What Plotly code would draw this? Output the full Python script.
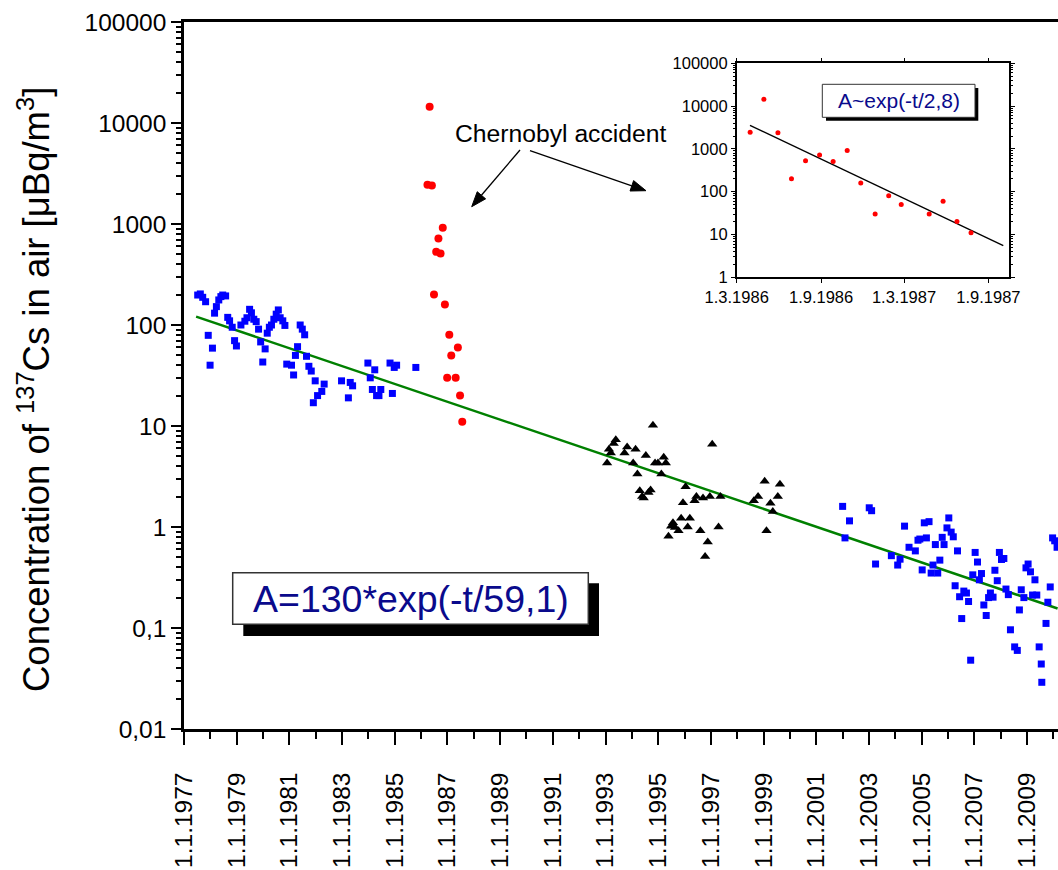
import plotly.graph_objects as go

# ---------------- data (decimal years, concentration in µBq/m3) ----------------
blue_early_years = [1977.52, 1977.62, 1977.71, 1977.82, 1977.92, 1977.99, 1978.08, 1978.16, 1978.23, 1978.32,
                    1978.40, 1978.47, 1978.58, 1978.66, 1978.73, 1978.83, 1978.92, 1978.99, 1979.16, 1979.31,
                    1979.39, 1979.49, 1979.56, 1979.65, 1979.74, 1979.83, 1979.91, 1979.99, 1980.08, 1980.16,
                    1980.24, 1980.32, 1980.41, 1980.50, 1980.58, 1980.65, 1980.75, 1980.83, 1980.90, 1981.08,
                    1981.16, 1981.23, 1981.31, 1981.41, 1981.49, 1981.58, 1981.65, 1981.74, 1981.83, 1981.91,
                    1981.98, 1982.07, 1982.23, 1982.32, 1982.98, 1983.24, 1983.31, 1983.40, 1983.98, 1984.07,
                    1984.15, 1984.24, 1984.31, 1984.40, 1984.47, 1984.82, 1984.91, 1984.98, 1985.07, 1985.80]
blue_early_vals = [198, 203, 188, 170, 79, 40, 59, 131, 152, 177,
                   191, 198, 194, 119, 110, 95, 70, 62, 100, 109,
                   118, 143, 132, 114, 108, 91, 68, 43, 58, 83,
                   95, 100, 114, 128, 141, 118, 110, 99, 41, 40,
                   32, 50, 61, 100, 91, 80, 49, 39, 35, 17,
                   28, 20, 22, 26, 28, 19, 27, 25, 42, 30,
                   23, 36, 20, 20, 23, 42, 21, 38, 40, 38]

red_years = [1986.242, 1986.324, 1986.408, 1986.489, 1986.573, 1986.657, 1986.738, 1986.822,
             1986.903, 1986.989, 1987.070, 1987.145, 1987.312, 1987.395, 1987.478, 1987.562]
red_vals = [2450, 14500, 2400, 200, 530, 720, 510, 920, 160, 30, 80, 50, 30, 60, 20, 11]

black_years = [1994.80, 1993.39, 1993.31, 1993.13, 1993.20, 1993.06, 1993.82, 1994.14, 1993.72, 1994.05,
               1994.53, 1995.21, 1994.88, 1994.99, 1995.29, 1994.21, 1995.12, 1997.05, 1996.04, 1994.30,
               1994.71, 1994.63, 1994.39, 1994.45, 1995.94, 1996.45, 1996.38, 1996.70, 1996.96, 1997.36,
               1995.87, 1996.20, 1995.56, 1995.49, 1995.64, 1995.77, 1996.12, 1995.39, 1996.60, 1997.29,
               1996.88, 1996.78, 1999.04, 1999.62, 1998.79, 1999.54, 1998.63, 1999.26, 1999.35, 1999.11]
black_vals = [10.2, 7.3, 6.7, 5.9, 5.4, 4.3, 6.2, 5.9, 5.4, 4.3,
              5.1, 4.9, 4.3, 4.3, 4.3, 3.35, 3.35, 6.6, 2.5, 2.29,
              2.32, 2.2, 2.0, 1.94, 1.74, 2.0, 1.82, 1.94, 2.0, 2.0,
              1.22, 1.22, 1.10, 1.02, 0.99, 0.92, 1.0, 0.81, 0.92, 1.0,
              0.71, 0.51, 2.83, 2.65, 2.01, 2.0, 1.82, 1.72, 1.42, 0.92]

blue_late_years = [2002.00, 2002.26, 2002.09, 2003.01, 2003.10, 2003.25, 2003.85, 2004.09, 2004.18, 2004.35,
                   2004.52, 2004.76, 2004.86, 2004.93, 2005.02, 2005.10, 2005.18, 2005.28, 2005.36, 2005.43,
                   2005.52, 2005.61, 2005.69, 2005.78, 2005.85, 2005.96, 2006.03, 2006.12, 2006.20, 2006.27,
                   2006.36, 2006.44, 2006.52, 2006.60, 2006.70, 2006.78, 2006.86, 2006.94, 2007.03, 2007.12,
                   2007.19, 2007.27, 2007.36, 2007.45, 2007.54, 2007.61, 2007.71, 2007.78, 2007.87, 2007.95,
                   2008.03, 2008.12, 2008.20, 2008.29, 2008.37, 2008.53, 2008.63, 2008.71, 2008.78, 2008.88,
                   2008.96, 2009.04, 2009.13, 2009.21, 2009.30, 2009.37, 2009.46, 2009.54, 2009.56, 2009.72,
                   2009.79, 2009.88, 2009.97, 2010.05, 2010.14]
blue_late_vals = [1.60, 1.15, 0.78, 1.55, 1.45, 0.43, 0.52, 0.42, 0.48, 1.02,
                  0.63, 0.58, 0.74, 0.76, 0.376, 1.10, 0.78, 1.13, 0.35, 0.42,
                  0.67, 0.35, 0.47, 0.79, 0.67, 0.98, 1.23, 0.89, 0.80, 0.262,
                  0.58, 0.204, 0.124, 0.232, 0.222, 0.183, 0.048, 0.336, 0.56, 0.45,
                  0.30, 0.346, 0.169, 0.133, 0.20, 0.222, 0.202, 0.373, 0.294, 0.56,
                  0.477, 0.488, 0.243, 0.214, 0.096, 0.065, 0.060, 0.151, 0.239, 0.20,
                  0.394, 0.43, 0.36, 0.212, 0.30, 0.212, 0.065, 0.044, 0.029, 0.111,
                  0.18, 0.255, 0.78, 0.73, 0.63]

# fitted lines (end points of the exponential fits, straight on a log axis)
fit_years = [1977.46, 2010.16]
fit_vals = [121, 0.156]
inset_fit_years = [1986.241, 1987.755]
inset_fit_vals = [3560, 5.5]

# tick labels
main_tick_years = list(range(1977, 2010, 2))
main_tick_text = ["1.1.%d" % y for y in main_tick_years]
main_minor_years = list(range(1978, 2011, 2))
y_tick_vals = [0.01, 0.1, 1, 10, 100, 1000, 10000, 100000]
y_tick_text = ["0,01", "0,1", "1", "10", "100", "1000", "10000", "100000"]
inset_tick_years = [1986.1616, 1986.6658, 1987.1616, 1987.6658]
inset_tick_text = ["1.3.1986", "1.9.1986", "1.3.1987", "1.9.1987"]
inset_y_vals = [1, 10, 100, 1000, 10000, 100000]
inset_y_text = ["1", "10", "100", "1000", "10000", "100000"]

# ---------------- figure ----------------
FONT = "Liberation Sans, Arial, sans-serif"
minor_log = [m * 10.0 ** k for k in range(-2, 5) for m in range(2, 10)]
minor_log_inset = [m * 10.0 ** k for k in range(0, 5) for m in range(2, 10)]

fig = go.Figure()
fig.add_trace(go.Scatter(x=fit_years, y=fit_vals, mode="lines",
                         line=dict(color="#008000", width=2.5), hoverinfo="skip"))
fig.add_trace(go.Scatter(x=blue_early_years, y=blue_early_vals, mode="markers",
                         marker=dict(symbol="square", size=7, color="#0000FF")))
fig.add_trace(go.Scatter(x=blue_late_years, y=blue_late_vals, mode="markers",
                         marker=dict(symbol="square", size=7, color="#0000FF")))
fig.add_trace(go.Scatter(x=red_years, y=red_vals, mode="markers",
                         marker=dict(symbol="circle", size=8, color="#FF0000")))
fig.add_trace(go.Scatter(x=black_years, y=black_vals, mode="markers",
                         marker=dict(symbol="triangle-up", size=9, color="black")))

# inset
fig.add_trace(go.Scatter(x=inset_fit_years, y=inset_fit_vals, mode="lines", xaxis="x2", yaxis="y2",
                         line=dict(color="black", width=1.3), hoverinfo="skip"))
fig.add_trace(go.Scatter(x=red_years, y=red_vals, mode="markers", xaxis="x2", yaxis="y2",
                         marker=dict(symbol="circle", size=5, color="#FF0000")))

SX0, SX1, SY0, SY1 = 184, 1058, 22, 729        # plot area on screen
W, H = 1058, 870
L, T, B = SX0, SY0, H - SY1
PW, PH = SX1 - SX0, SY1 - SY0


def px(xp):
    return (xp - SX0) / PW


def py(yp):
    return (SY1 - yp) / PH


fig.update_layout(
    width=W, height=H,
    margin=dict(l=L, r=0, t=T, b=B, autoexpand=False),
    paper_bgcolor="white", plot_bgcolor="white",
    showlegend=False,
    font=dict(family=FONT, color="black"),
    xaxis=dict(domain=[0, 1], range=[1977.0, 2010.175], showgrid=False, zeroline=False,
               automargin=False,
               showline=True, linecolor="black", linewidth=2.5, mirror=True,
               ticks="outside", ticklen=13, tickwidth=2, tickcolor="black",
               tickmode="array", tickvals=main_tick_years, ticktext=main_tick_text,
               tickangle=-90, tickfont=dict(size=24.5, family=FONT), ticklabelstandoff=18,
               minor=dict(tickmode="array", tickvals=main_minor_years, ticks="outside",
                          ticklen=7, tickwidth=2, tickcolor="black", showgrid=False)),
    yaxis=dict(domain=[0, 1], type="log", range=[-2, 5], showgrid=False, zeroline=False,
               automargin=False,
               showline=True, linecolor="black", linewidth=2.5,
               ticks="outside", ticklen=10, tickwidth=2, tickcolor="black",
               tickmode="array", tickvals=y_tick_vals, ticktext=y_tick_text,
               tickfont=dict(size=24.5, family=FONT),
               minor=dict(tickmode="array", tickvals=minor_log, ticks="outside",
                          ticklen=5, tickwidth=1.5, tickcolor="black", showgrid=False)),
    xaxis2=dict(domain=[px(736.7), px(1009)], anchor="y2", range=[1986.1616, 1987.789],
                automargin=False,
                showgrid=False, zeroline=False, showline=True, linecolor="black", linewidth=1.5,
                mirror="ticks", ticks="outside", ticklen=4, tickwidth=1.2, tickcolor="black",
                tickmode="array", tickvals=inset_tick_years, ticktext=inset_tick_text,
                tickangle=0, tickfont=dict(size=16.5, family=FONT)),
    yaxis2=dict(domain=[py(277.3), py(63.3)], anchor="x2", type="log", range=[0, 5],
                automargin=False,
                showgrid=False, zeroline=False, showline=True, linecolor="black", linewidth=1.5,
                mirror="ticks", ticks="outside", ticklen=4, tickwidth=1.2, tickcolor="black",
                tickmode="array", tickvals=inset_y_vals, ticktext=inset_y_text,
                tickfont=dict(size=16.5, family=FONT),
                minor=dict(tickmode="array", tickvals=minor_log_inset, ticks="outside",
                           ticklen=2, tickwidth=1, tickcolor="black", showgrid=False)),
)


def arrow_shapes(tail, head, hl=15, hw=5.5):
    (tx, ty), (hx, hy) = tail, head
    dx, dy = hx - tx, hy - ty
    n = (dx * dx + dy * dy) ** 0.5
    ux, uy = dx / n, dy / n
    bx, by = hx - hl * ux, hy - hl * uy
    nx, ny = -uy, ux
    c1 = (bx + hw * nx, by + hw * ny)
    c2 = (bx - hw * nx, by - hw * ny)
    line = dict(type="line", xref="paper", yref="paper", x0=px(tx), y0=py(ty), x1=px(bx), y1=py(by),
                line=dict(color="black", width=1.3), layer="above")
    path = "M %f %f L %f %f L %f %f Z" % (px(hx), py(hy), px(c1[0]), py(c1[1]), px(c2[0]), py(c2[1]))
    head_shape = dict(type="path", xref="paper", yref="paper", path=path,
                      fillcolor="black", line=dict(color="black", width=1), layer="above")
    return [line, head_shape]


NAVY = "#0A0A8C"
shapes = [
    # main fit-label box: shadow then white box
    dict(type="rect", xref="paper", yref="paper", x0=px(243.3), x1=px(599), y0=py(636), y1=py(583.3),
         fillcolor="black", line=dict(width=0), layer="above"),
    dict(type="rect", xref="paper", yref="paper", x0=px(232.7), x1=px(588.3), y0=py(624.3), y1=py(572.7),
         fillcolor="white", line=dict(color="#333333", width=1.5), layer="above"),
    # inset fit-label box
    dict(type="rect", xref="paper", yref="paper", x0=px(826), x1=px(978.3), y0=py(120.7), y1=py(88),
         fillcolor="black", line=dict(width=0), layer="above"),
    dict(type="rect", xref="paper", yref="paper", x0=px(822.3), x1=px(975), y0=py(117.3), y1=py(84.3),
         fillcolor="white", line=dict(color="#333333", width=1), layer="above"),
]
shapes += arrow_shapes((520, 150), (471.7, 206.7))
shapes += arrow_shapes((530, 150.7), (646, 190.7))
fig.update_layout(shapes=shapes)

annotations = [
    dict(text="A=130*exp(-t/59,1)", xref="paper", yref="paper", x=px(410.5), y=py(598.5),
         showarrow=False, xanchor="center", yanchor="middle",
         font=dict(size=37.5, color=NAVY, family=FONT)),
    dict(text="A~exp(-t/2,8)", xref="paper", yref="paper", x=px(898.7), y=py(100.8),
         showarrow=False, xanchor="center", yanchor="middle",
         font=dict(size=21, color=NAVY, family=FONT)),
    dict(text="Chernobyl accident", xref="paper", yref="paper", x=px(560.8), y=py(133.4),
         showarrow=False, xanchor="center", yanchor="middle",
         font=dict(size=24.7, color="black", family=FONT)),
    dict(text="Concentration of <sup>137</sup>Cs in air [\u03bcBq/m<sup>3</sup>]",
         xref="paper", yref="paper", x=px(34), y=py(390), textangle=-90,
         showarrow=False, xanchor="center", yanchor="middle",
         font=dict(size=36.5, color="black", family=FONT)),
]
fig.update_layout(annotations=annotations)

# remove the browser's default 8px page margin so the figure fills the window exactly
fig.write_html("out.html", config={"displayModeBar": False},
               post_script="document.body.style.margin='0';document.body.style.overflow='hidden';")
